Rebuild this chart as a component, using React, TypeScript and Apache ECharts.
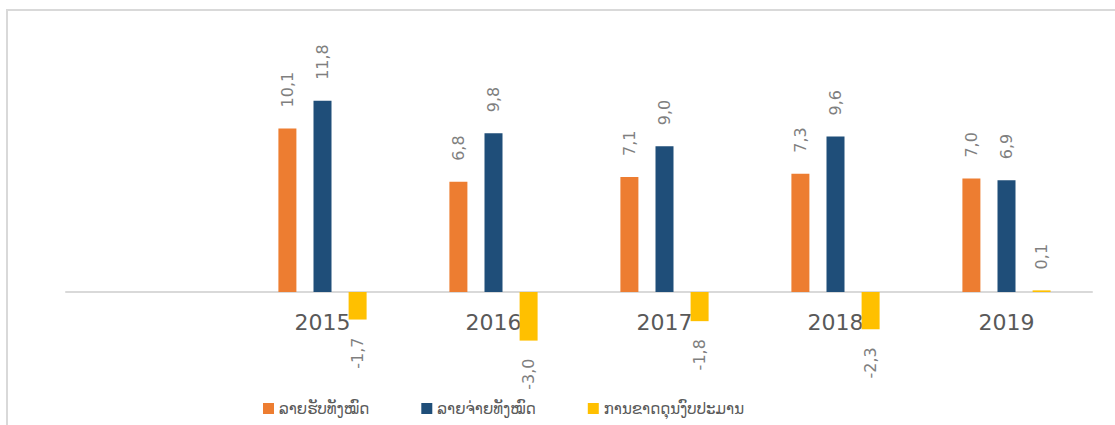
import React, { useEffect, useRef } from "react";
import * as echarts from "echarts";

const categories = ["", "2015", "2016", "2017", "2018", "2019"];
const seriesNames = ["ລາຍຮັບທັງໝົດ", "ລາຍຈ່າຍທັງໝົດ", "ການຂາດດຸນງົບປະມານ"];
const revenue = [null, 10.1, 6.8, 7.1, 7.3, 7.0];
const expenditure = [null, 11.8, 9.8, 9.0, 9.6, 6.9];
const deficit = [null, -1.7, -3.0, -1.8, -2.3, 0.1];
const colors = ["#ED7D31", "#1F4E79", "#FFC000"];

const FONT = "DejaVu Sans";

function fmt(v: number) {
  return v.toFixed(1).replace(".", ",");
}

function makeData(values: (number | null)[]) {
  return values.map((v) => {
    if (v === null) return null;
    const neg = v < 0;
    return {
      value: v,
      label: {
        position: neg ? "bottom" : "top",
        align: neg ? "right" : "left",
        distance: neg ? 18 : 21,
      },
    };
  });
}

export default function App() {
  const ref = useRef<HTMLDivElement>(null);
  useEffect(() => {
    document.body.style.margin = "0";
    const chart = echarts.init(ref.current!, null, { renderer: "svg" });
    const seriesVals = [revenue, expenditure, deficit];
    chart.setOption({
      animation: false,
      backgroundColor: "#ffffff",
      textStyle: { fontFamily: FONT },
      grid: { left: 66, right: 23, top: 32.8, height: 324 },
      graphic: [
        {
          type: "rect",
          shape: { x: 7, y: 10, width: 1130, height: 440 },
          style: { fill: "none", stroke: "#d9d9d9", lineWidth: 2 },
          silent: true,
        },
      ],
      legend: {
        left: 263,
        top: 401,
        padding: 0,
        itemWidth: 11,
        itemHeight: 11,
        itemGap: 52,
        icon: "rect",
        textStyle: { color: "#595959", fontSize: 15, fontFamily: FONT },
        data: seriesNames,
      },
      xAxis: {
        type: "category",
        data: categories,
        axisLine: { onZero: true, lineStyle: { color: "#d9d9d9", width: 2 } },
        axisTick: { show: false },
        axisLabel: {
          interval: 0,
          margin: -45,
          color: "#595959",
          fontSize: 22,
          fontFamily: FONT,
        },
        splitLine: { show: false },
      },
      yAxis: {
        type: "value",
        min: -4,
        max: 16,
        show: false,
        splitLine: { show: false },
      },
      series: seriesNames.map((name, i) => ({
        name,
        type: "bar",
        data: makeData(seriesVals[i]),
        barWidth: 18,
        barGap: "95%",
        itemStyle: { color: colors[i] },
        label: {
          show: true,
          rotate: 90,
          verticalAlign: "middle",
          color: "#7f7f7f",
          fontSize: 16,
          fontFamily: FONT,
          formatter: (p: any) => fmt(p.value),
        },
      })),
    });
    return () => chart.dispose();
  }, []);
  return <div ref={ref} style={{ width: 1115, height: 425 }} />;
}
